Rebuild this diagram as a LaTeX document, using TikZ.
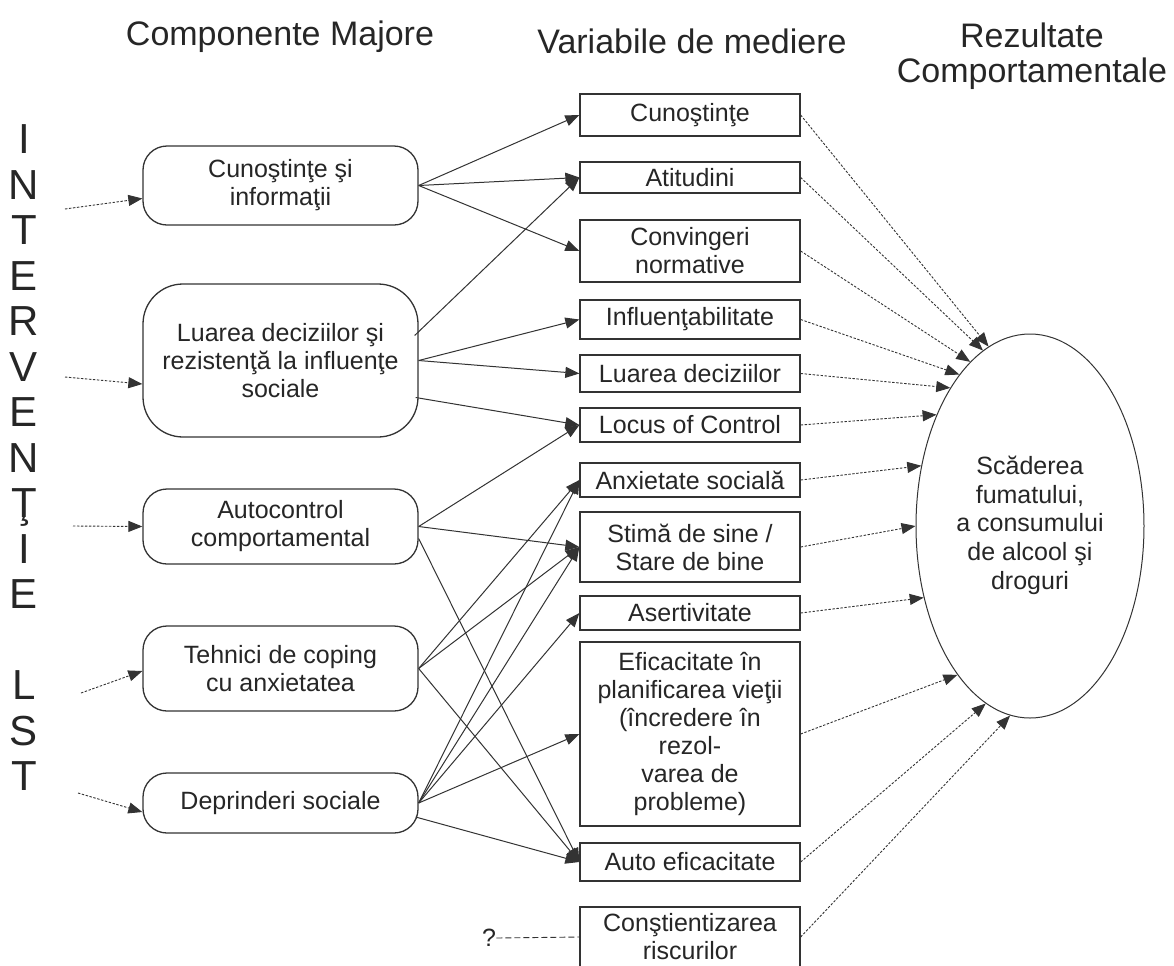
\documentclass[tikz,border=0pt]{standalone}
\usepackage{fontspec}
\setmainfont{Liberation Sans}
\usetikzlibrary{arrows.meta,shapes.geometric,calc}
\definecolor{ink}{HTML}{262626}
\definecolor{edge}{HTML}{333333}
\begin{document}
\begin{tikzpicture}[x=0.5pt, y=-0.5pt,
  txt/.style={text=ink, font=\fontsize{12.5}{14}\selectfont, align=center, inner sep=0pt},
  midbox/.style={txt, draw=edge, line width=0.65pt, minimum width=110pt},
  leftbox/.style={txt, draw=edge, line width=0.65pt, minimum width=137.5pt, rounded corners=12pt},
  conn/.style={draw=edge, line width=0.5pt, -{Triangle[length=7pt,width=5.5pt]}},
  dotconn/.style={draw=edge, line width=0.45pt, dash pattern=on 1.2pt off 0.8pt, -{Triangle[length=7pt,width=5.5pt]}},
  qline/.style={draw=edge, line width=0.45pt, dash pattern=on 3pt off 1.5pt},
  headtxt/.style={text=ink, font=\fontsize{17}{17.5}\selectfont, inner sep=0pt, anchor=base},
  lettertxt/.style={text=ink, font=\fontsize{21}{22}\selectfont, inner sep=0pt, anchor=base},
]
\useasboundingbox (0,0) rectangle (1174,965);
\fill[white] (0,0) rectangle (1174,965);

% headings
\node[headtxt] (h1) at (280,45) {Componente Majore};
\node[headtxt] (h2) at (692,53) {Variabile de mediere};
\node[headtxt] (h3a) at (1032,47) {Rezultate};
\node[headtxt] (h3b) at (1032,82) {Comportamentale};

% vertical letters
\foreach \c [count=\i from 0] in {I,N,T,E,R,V,E,N,Ţ,I,E}
  \node[lettertxt] (v\i) at (24,{153.5+45.5*\i}) {\c};
\node[lettertxt] (vL) at (24,{153.5+45.5*12}) {L};
\node[lettertxt] (vS) at (24,{153.5+45.5*13}) {S};
\node[lettertxt] (vT) at (24,{153.5+45.5*14}) {T};

% left boxes
\node[leftbox, minimum height=39.5pt] (l1) at (280.5,185.5) {Cunoştinţe şi\\informaţii};
\node[leftbox, minimum height=76.5pt, rounded corners=20pt] (l2) at (280.5,360.5) {Luarea deciziilor şi\\rezistenţă la influenţe\\sociale};
\node[leftbox, minimum height=37.5pt] (l3) at (280.5,526.5) {Autocontrol\\comportamental};
\node[leftbox, minimum height=42.5pt] (l4) at (280.5,668.5) {Tehnici de coping\\cu anxietatea};
\node[leftbox, minimum height=30pt] (l5) at (280.5,803) {Deprinderi sociale};

% middle boxes
\node[midbox, minimum height=21pt]   (m1)  at (690,115)   {Cunoştinţe};
\node[midbox, minimum height=15.5pt] (m2)  at (690,177.5) {Atitudini};
\node[midbox, minimum height=31pt]   (m3)  at (690,251)   {Convingeri\\normative};
\node[midbox, minimum height=19.5pt] (m4)  at (690,319.5) {Influenţabilitate};
\node[midbox, minimum height=18.5pt] (m5)  at (690,373.5) {Luarea deciziilor};
\node[midbox, minimum height=17pt]   (m6)  at (690,425)   {Locus of Control};
\node[midbox, minimum height=17pt]   (m7)  at (690,480)   {Anxietate socială};
\node[midbox, minimum height=35pt]   (m8)  at (690,547)   {Stimă de sine /\\Stare de bine};
\node[midbox, minimum height=17pt]   (m9)  at (690,613)   {Asertivitate};
\node[midbox, minimum height=92pt]   (m10) at (690,734)   {Eficacitate în\\planificarea vieţii\\(încredere în\\rezol-\\varea de\\probleme)};
\node[midbox, minimum height=19pt]   (m11) at (690,862)   {Auto eficacitate};
\node[midbox, minimum height=30pt]   (m12) at (690,937)   {Conştientizarea\\riscurilor};

% outcome ellipse
\node[ellipse, draw=edge, line width=0.5pt, minimum width=114pt, minimum height=192pt, inner sep=0pt,
      text=ink, font=\fontsize{12.5}{14.4}\selectfont, align=center] (out) at (1030,526)
      {\\[-6pt]Scăderea\\fumatului,\\a consumului\\de alcool şi\\droguri};

% question mark
\node[txt] (q) at (489,938) {?};
\draw[qline] (q.east) -- (m12.west);

% intervention entry points
\coordinate (s1) at (65,209);
\coordinate (s2) at (65,377);
\coordinate (s3) at (73,526);
\coordinate (s4) at (81,693);
\coordinate (s5) at (78,793);
\draw[dotconn] (s1) -- ($(l1.west)+(0,13)$);
\draw[dotconn] (s2) -- ($(l2.west)+(0,23.5)$);
\draw[dotconn] (s3) -- (l3.west);
\draw[dotconn] (s4) -- ($(l4.west)+(0,2.5)$);
\draw[dotconn] (s5) -- ($(l5.west)+(0,9)$);

% solid connectors
\draw[conn] (l1.east) -- (m1.west);
\draw[conn] (l1.east) -- (m2.west);
\draw[conn] (l1.east) -- (m3.west);

\draw[conn] ($(l2.east)+(-4,-25)$) -- (m2.west);
\draw[conn] (l2.east) -- (m4.west);
\draw[conn] (l2.east) -- (m5.west);
\draw[conn] ($(l2.east)+(-3,37)$) -- (m6.west);

\draw[conn] (l3.east) -- (m6.west);
\draw[conn] (l3.east) -- (m8.west);
\draw[conn] ($(l3.east)+(0,12)$) -- (m11.west);

\draw[conn] (l4.east) -- (m7.west);
\draw[conn] (l4.east) -- (m8.west);
\draw[conn] (l4.east) -- (m11.west);

\draw[conn] (l5.east) -- (m7.west);
\draw[conn] (l5.east) -- (m8.west);
\draw[conn] (l5.east) -- (m9.west);
\draw[conn] (l5.east) -- (m10.west);
\draw[conn] ($(l5.east)+(-3,14)$) -- (m11.west);

% dotted connectors to outcome
\draw[dotconn] (m1.east)  -- (out.103);
\draw[dotconn] (m2.east)  -- (out.105.5);
\draw[dotconn] (m3.east)  -- (out.110);
\draw[dotconn] (m4.east)  -- (out.115.6);
\draw[dotconn] (m5.east)  -- (out.120.8);
\draw[dotconn] (m6.east)  -- (out.130);
\draw[dotconn] (m7.east)  -- (out.151.5);
\draw[dotconn] (m8.east)  -- (out.180.5);
\draw[dotconn] (m9.east)  -- (out.214.6);
\draw[dotconn] (m10.east) -- (out.244.7);
\draw[dotconn] (m11.east) -- (out.256);
\draw[dotconn] (m12.east) -- (out.264);
\end{tikzpicture}
\end{document}
